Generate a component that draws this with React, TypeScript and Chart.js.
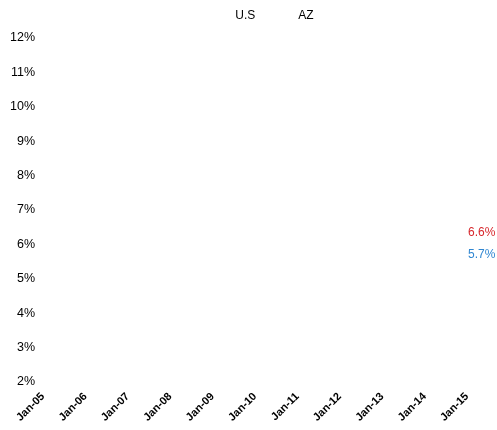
import React, { useEffect, useRef } from "react";
import { Chart, registerables } from "chart.js";

Chart.register(...registerables);

const categories = [
  "Jan-05", "Jan-06", "Jan-07", "Jan-08", "Jan-09", "Jan-10",
  "Jan-11", "Jan-12", "Jan-13", "Jan-14", "Jan-15",
];
// Only the end values are visible in the reference
const usValues: (number | null)[] = [null, null, null, null, null, null, null, null, null, null, 5.7];
const azValues: (number | null)[] = [null, null, null, null, null, null, null, null, null, null, 6.6];
const seriesNames = ["U.S", "AZ"];
const seriesColors = ["#2F86D1", "#D7262B"];
const yMin = 2;
const yMax = 12;
const yStep = 1;

const FONT = "'Liberation Sans', Arial, sans-serif";

const endLabelPlugin = {
  id: "endLabels",
  afterDatasetsDraw(chart: any) {
    const ctx = chart.ctx;
    ctx.save();
    ctx.font = `12px ${FONT}`;
    ctx.textBaseline = "middle";
    ctx.textAlign = "left";
    chart.data.datasets.forEach((ds: any, di: number) => {
      const meta = chart.getDatasetMeta(di);
      let idx = -1;
      for (let i = ds.data.length - 1; i >= 0; i--) {
        if (ds.data[i] != null) { idx = i; break; }
      }
      if (idx < 0) return;
      const pt = meta.data[idx];
      ctx.fillStyle = ds.borderColor;
      ctx.fillText(ds.data[idx].toFixed(1) + "%", pt.x + 1, pt.y + (ds.labelOffsetY || 0));
    });
    ctx.restore();
  },
};

const legendPlugin = {
  id: "customLegend",
  afterDraw(chart: any) {
    const ctx = chart.ctx;
    ctx.save();
    ctx.font = `12px ${FONT}`;
    ctx.textBaseline = "middle";
    ctx.textAlign = "left";
    ctx.fillStyle = "#000";
    const symW = 39;
    const spacing = 4;
    const items = chart.data.datasets.map((ds: any) => ({ text: ds.label, w: ctx.measureText(ds.label).width }));
    const total = items.reduce((s: number, it: any) => s + symW + it.w, 0) + spacing * (items.length - 1);
    const cx = (chart.chartArea.left + chart.chartArea.right) / 2;
    let x = cx - total / 2;
    items.forEach((it: any) => {
      x += symW;
      ctx.fillText(it.text, x, 16);
      x += it.w + spacing;
    });
    ctx.restore();
  },
};

export default function App() {
  const ref = useRef<HTMLCanvasElement>(null);
  useEffect(() => {
    if (!ref.current) return;
    const chart = new Chart(ref.current, {
      type: "line",
      data: {
        labels: categories,
        datasets: [
          {
            label: seriesNames[0],
            data: usValues,
            borderColor: seriesColors[0],
            backgroundColor: seriesColors[0],
            pointRadius: 0,
            borderWidth: 2,
            labelOffsetY: 0,
          } as any,
          {
            label: seriesNames[1],
            data: azValues,
            borderColor: seriesColors[1],
            backgroundColor: seriesColors[1],
            pointRadius: 0,
            borderWidth: 2,
            labelOffsetY: 9,
          } as any,
        ],
      },
      options: {
        animation: false,
        responsive: false,
        maintainAspectRatio: false,
        layout: { padding: { top: 38, right: 30, left: 0, bottom: 0 } },
        plugins: {
          legend: { display: false },
          tooltip: { enabled: false },
        },
        scales: {
          x: {
            grid: { display: false, drawTicks: false },
            border: { display: false },
            ticks: {
              autoSkip: false,
              maxRotation: 45,
              minRotation: 45,
              padding: 8,
              color: "#000",
              font: { family: FONT, size: 11, weight: "bold" },
            },
            afterFit: (scale: any) => { scale.height = 48; },
          },
          y: {
            min: yMin,
            max: yMax,
            grid: { display: false, drawTicks: false },
            border: { display: false },
            ticks: {
              stepSize: yStep,
              padding: 8,
              color: "#000",
              font: { family: FONT, size: 12.5 },
              callback: (v: any) => v + "%",
            },
            afterFit: (scale: any) => { scale.width = 43; },
          },
        },
      } as any,
      plugins: [endLabelPlugin, legendPlugin],
    });
    return () => chart.destroy();
  }, []);
  return (
    <div style={{ position: "absolute", left: 0, top: 0, width: 497, height: 430, background: "#fff" }}>
      <canvas ref={ref} width={497} height={430} style={{ width: 497, height: 430, display: "block" }} />
    </div>
  );
}
